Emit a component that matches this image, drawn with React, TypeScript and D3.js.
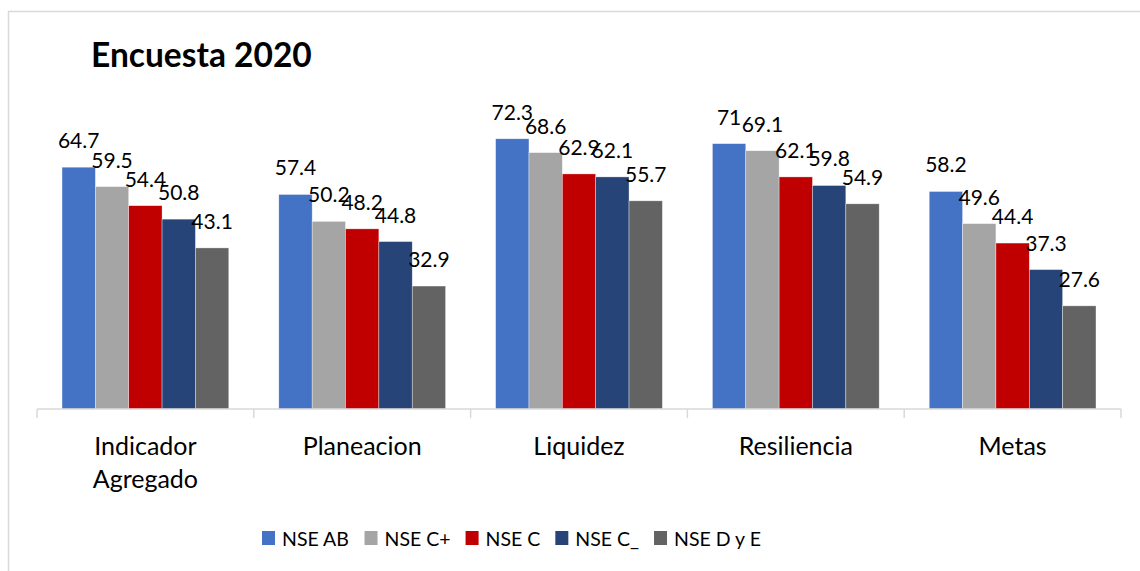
import { scaleBand, scaleLinear, scaleOrdinal } from 'd3';

const categories = ['Indicador Agregado', 'Planeacion', 'Liquidez', 'Resiliencia', 'Metas'];
const seriesNames = ['NSE AB', 'NSE C+', 'NSE C', 'NSE C_', 'NSE D y E'];
const seriesColors = ['#4472C4', '#A5A5A5', '#C00000', '#264478', '#636363'];

const nseAB = [64.7, 57.4, 72.3, 71, 58.2];
const nseCPlus = [59.5, 50.2, 68.6, 69.1, 49.6];
const nseC = [54.4, 48.2, 62.9, 62.1, 44.4];
const nseCMinus = [50.8, 44.8, 62.1, 59.8, 37.3];
const nseDE = [43.1, 32.9, 55.7, 54.9, 27.6];

const seriesValues = [nseAB, nseCPlus, nseC, nseCMinus, nseDE];

const FONT = 'Lato, "Noto Sans", sans-serif';
const W = 1140;
const H = 571;
const axisY = 409;
const plotLeft = 37;
const plotRight = 1121;

const measure = (text: string, size: number) => {
  const ctx = document.createElement('canvas').getContext('2d');
  if (!ctx) return text.length * size * 0.55;
  ctx.font = `${size}px Lato`;
  return ctx.measureText(text).width;
};

export default function App() {
  const x0 = scaleBand<string>().domain(categories).range([plotLeft, plotRight]).padding(0);
  const x1 = scaleBand<string>()
    .domain(seriesNames)
    .range([0, x0.bandwidth()])
    .paddingInner(0)
    .paddingOuter(0.75);
  const y = scaleLinear().domain([0, 80]).range([axisY, axisY - 299]);
  const color = scaleOrdinal<string, string>().domain(seriesNames).range(seriesColors);

  // legend layout
  const legendSize = 19.5;
  let lx = 262;
  const legendItems = seriesNames.map((name) => {
    const item = { name, x: lx };
    lx += 13 + 7 + measure(name, legendSize) + 15;
    return item;
  });

  const ticks = [...categories.map((c) => x0(c) ?? 0), plotRight];

  return (
    <svg
      width={W}
      height={H}
      style={{ position: 'absolute', left: 0, top: 0, background: '#fff' }}
      fontFamily={FONT}
    >
      <rect x={8.5} y={11.5} width={W + 10} height={H + 10} fill="#fff" stroke="#D9D9D9" strokeWidth={1.5} />

      <text x={91} y={67} fontSize={33.5} fontWeight={700} fill="#000">
        Encuesta 2020
      </text>

      {seriesNames.map((s, si) => (
        <g key={s}>
          {categories.map((c, ci) => {
            const v = seriesValues[si][ci];
            const bx = (x0(c) ?? 0) + (x1(s) ?? 0);
            return (
              <rect
                key={c}
                x={bx}
                y={y(v)}
                width={x1.bandwidth()}
                height={axisY - y(v)}
                fill={color(s)}
                stroke="#ffffff"
                strokeOpacity={0.6}
                strokeWidth={0.6}
              />
            );
          })}
        </g>
      ))}

      <line x1={plotLeft} x2={plotRight} y1={axisY} y2={axisY} stroke="#D9D9D9" strokeWidth={1.5} />
      {ticks.map((t) => (
        <line key={t} x1={t} x2={t} y1={axisY} y2={axisY + 9} stroke="#D9D9D9" strokeWidth={1.5} />
      ))}

      {seriesNames.map((s, si) => (
        <g key={`lbl-${s}`}>
          {categories.map((c, ci) => {
            const v = seriesValues[si][ci];
            const cx = (x0(c) ?? 0) + (x1(s) ?? 0) + x1.bandwidth() / 2;
            return (
              <text key={c} x={cx} y={y(v) - 19} fontSize={21} textAnchor="middle" fill="#000">
                {String(v)}
              </text>
            );
          })}
        </g>
      ))}

      {categories.map((c) => {
        const cx = (x0(c) ?? 0) + x0.bandwidth() / 2;
        const lines = c === 'Indicador Agregado' ? ['Indicador', 'Agregado'] : [c];
        return (
          <text key={c} x={cx} y={455} fontSize={25} textAnchor="middle" fill="#000">
            {lines.map((l, i) => (
              <tspan key={l} x={cx} dy={i === 0 ? 0 : 33}>
                {l}
              </tspan>
            ))}
          </text>
        );
      })}

      {legendItems.map(({ name, x }) => (
        <g key={name}>
          <rect x={x} y={531} width={13} height={14} fill={color(name)} />
          <text x={x + 20} y={545.5} fontSize={legendSize} fill="#000">
            {name}
          </text>
        </g>
      ))}
    </svg>
  );
}
